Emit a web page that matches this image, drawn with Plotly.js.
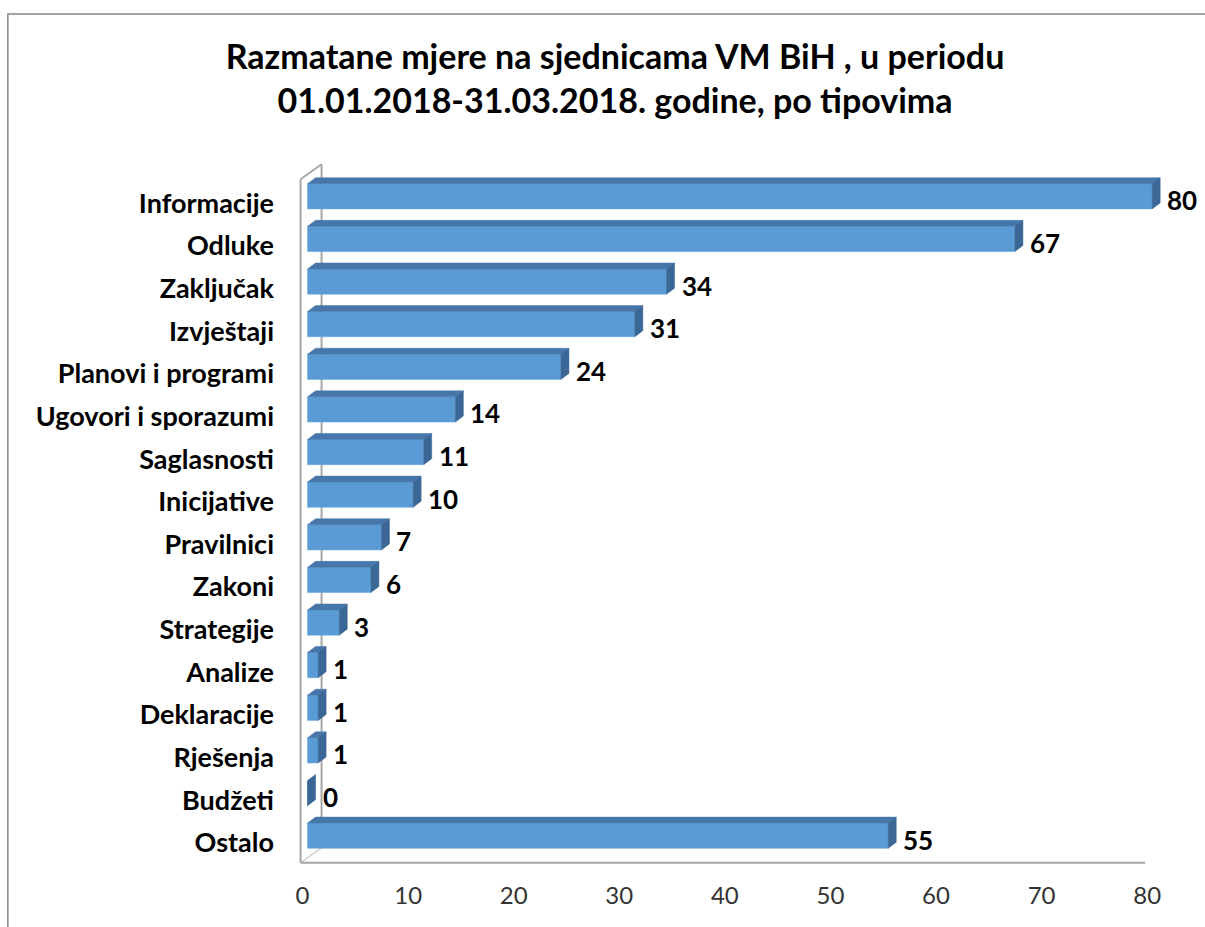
<!DOCTYPE html>
<html>
<head>
<meta charset="utf-8">
<script src="https://cdn.plot.ly/plotly-3.0.1.min.js"></script>
<style>html,body{margin:0;padding:0;background:#fff;}#chart{width:1205px;height:927px;}</style>
</head>
<body>
<div id="chart"></div>
<script>
const categories = ['Informacije','Odluke','Zaključak','Izvještaji','Planovi i programi','Ugovori i sporazumi','Saglasnosti','Inicijative','Pravilnici','Zakoni','Strategije','Analize','Deklaracije','Rješenja','Budžeti','Ostalo'];
const values = [80,67,34,31,24,14,11,10,7,6,3,1,1,1,0,55];
const xTickValues = [0,10,20,30,40,50,60,70,80];
const titleText = 'Razmatane mjere na sjednicama VM BiH , u periodu<br>01.01.2018-31.03.2018. godine, po tipovima';

const W = 1205, H = 927;
// plot area in pixels
const pxPerUnit = 10.55;
const xMin = -1, xMax = 81.5;
const plotL = 308 + xMin * pxPerUnit;       // value 0 at 308px
const plotW = (xMax - xMin) * pxPerUnit;
const plotT = 174.7, plotB = 857.3;
const plotH = plotB - plotT;
const catStep = plotH / categories.length;

const barW = 0.59;
const dx = 8 / pxPerUnit;      // depth in x (data units)
const dy = 6 / catStep;        // depth in y (category units)

const yIdx = categories.map((c, i) => i);

// 3D faces computed from the data
const topX = [], topY = [], sideX = [], sideY = [];
values.forEach((v, i) => {
  const yTop = i - barW / 2, yBot = i + barW / 2;
  if (v > 0) {
    topX.push(0, v, v + dx, dx, 0, null);
    topY.push(yTop, yTop, yTop - dy, yTop - dy, yTop, null);
  }
  sideX.push(v, v + dx, v + dx, v, v, null);
  sideY.push(yTop, yTop - dy, yBot - dy, yBot, yTop, null);
});

const traces = [
  {
    type: 'bar', orientation: 'h', x: values, y: yIdx, width: barW,
    marker: {color: '#5b9bd5', line: {color: '#6aa6db', width: 0.6}},
    hoverinfo: 'x+text', text: categories, textposition: 'none', showlegend: false
  },
  {
    type: 'scatter', mode: 'lines', x: topX, y: topY, fill: 'toself',
    fillcolor: '#4676aa', line: {color: '#4676aa', width: 0.5}, hoverinfo: 'skip', showlegend: false
  },
  {
    type: 'scatter', mode: 'lines', x: sideX, y: sideY, fill: 'toself',
    fillcolor: '#3a6795', line: {color: '#3a6795', width: 0.5}, hoverinfo: 'skip', showlegend: false
  }
];

const annotations = values.map((v, i) => ({
  x: v + dx, y: i, xref: 'x', yref: 'y', text: String(v), showarrow: false,
  xanchor: 'left', yanchor: 'middle', xshift: 5, yshift: -4,
  font: {family: 'Lato, sans-serif', size: 26, color: '#000000', weight: 700}
}));

// frame geometry (pixels -> paper)
const px = p => (p - plotL) / plotW;
const py = p => (plotB - p) / plotH;
const gray = '#a6a6a6';
const shapes = [
  // outer chart border
  {type: 'rect', xref: 'paper', yref: 'paper', x0: px(8.5), y0: py(940), x1: px(1215), y1: py(13.5), line: {color: '#878787', width: 1.5}},
  // front-left wall edge
  {type: 'line', xref: 'paper', yref: 'paper', x0: px(301), y0: py(179), x1: px(301), y1: py(863), line: {color: gray, width: 2}},
  // back-left wall edge
  {type: 'line', xref: 'paper', yref: 'paper', x0: px(322), y0: py(164), x1: px(322), y1: py(848), line: {color: gray, width: 2}, layer: 'below'},
  // top diagonal
  {type: 'line', xref: 'paper', yref: 'paper', x0: px(301), y0: py(179), x1: px(322), y1: py(164), line: {color: gray, width: 2}},
  // bottom diagonal
  {type: 'line', xref: 'paper', yref: 'paper', x0: px(301), y0: py(863), x1: px(322), y1: py(848), line: {color: '#d0d0d0', width: 1.5}, layer: 'below'},
  // floor front edge
  {type: 'line', xref: 'paper', yref: 'paper', x0: px(301), y0: py(863), x1: px(1145), y1: py(863), line: {color: gray, width: 2}}
];

const layout = {
  width: W, height: H,
  paper_bgcolor: '#ffffff', plot_bgcolor: 'rgba(0,0,0,0)',
  margin: {l: plotL, r: W - plotL - plotW, t: plotT, b: H - plotB, pad: 0},
  title: {
    text: titleText, xref: 'container', yref: 'container', x: 615 / W, xanchor: 'center',
    y: 1 - 69 / H, yanchor: 'top',
    font: {family: 'Lato, sans-serif', size: 34, color: '#000000', weight: 700}
  },
  xaxis: {
    range: [xMin, xMax], tickvals: xTickValues, ticktext: xTickValues.map(String),
    showgrid: false, zeroline: false, showline: false, ticks: '',
    tickfont: {family: 'Lato, sans-serif', size: 24, color: '#333333'},
    ticklabelstandoff: 22, ticklabelshift: -5, fixedrange: true
  },
  yaxis: {
    range: [categories.length - 0.5, -0.5], tickvals: yIdx, ticktext: categories,
    showgrid: false, zeroline: false, showline: false, ticks: '',
    tickfont: {family: 'Lato, sans-serif', size: 27, color: '#000000', weight: 700},
    ticklabelstandoff: 22, ticklabelshift: -7, fixedrange: true
  },
  shapes: shapes,
  annotations: annotations,
  bargap: 0.4,
  showlegend: false
};

Plotly.newPlot('chart', traces, layout, {displayModeBar: false, staticPlot: true});
</script>
</body>
</html>
